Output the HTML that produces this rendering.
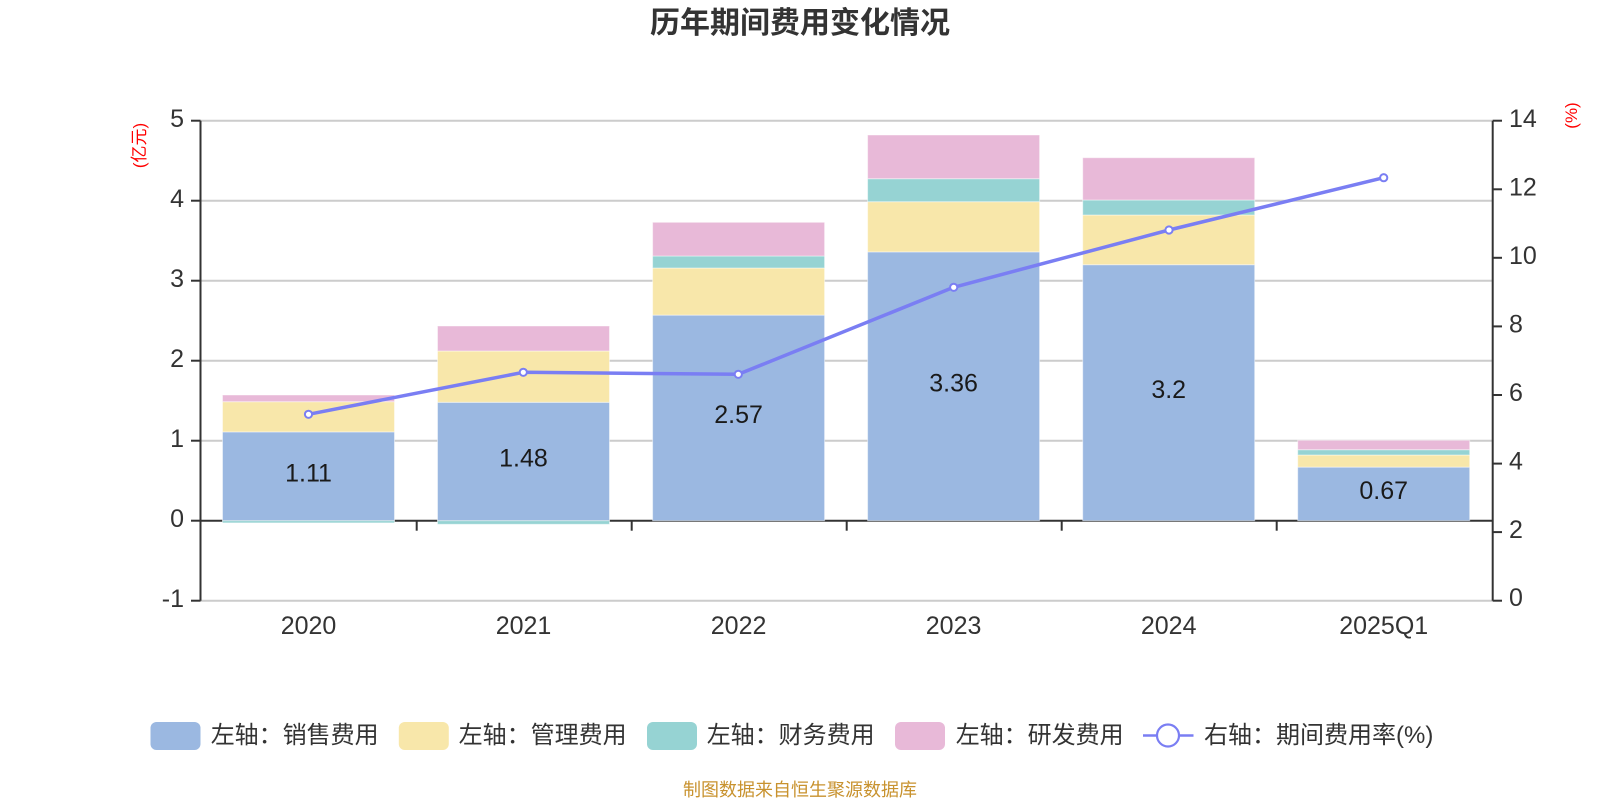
<!DOCTYPE html>
<html>
<head>
<meta charset="utf-8">
<style>
  html, body { margin: 0; padding: 0; background: #ffffff; }
  svg { display: block; }
  text { font-family: "Liberation Sans", "Noto Sans CJK SC", sans-serif; }
</style>
</head>
<body>
<svg width="1600" height="800" viewBox="0 0 1600 800" xmlns="http://www.w3.org/2000/svg">
  <rect x="0" y="0" width="1600" height="800" fill="#ffffff"/>

  <!-- Title -->
  <text x="800" y="33" text-anchor="middle" font-size="30" font-weight="bold" fill="#333333">历年期间费用变化情况</text>

  <!-- Axis names -->
  <text transform="translate(145,145.5) rotate(-90)" text-anchor="middle" font-size="17" fill="#ff0000">(亿元)</text>
  <text transform="translate(1577,115.5) rotate(-90)" text-anchor="middle" font-size="17" fill="#ff0000">(%)</text>

  <!-- Grid lines -->
  <g stroke="#cccccc" stroke-width="2">
    <line x1="200.5" y1="120.7" x2="1492.7" y2="120.7"/>
    <line x1="200.5" y1="200.7" x2="1492.7" y2="200.7"/>
    <line x1="200.5" y1="280.7" x2="1492.7" y2="280.7"/>
    <line x1="200.5" y1="360.7" x2="1492.7" y2="360.7"/>
    <line x1="200.5" y1="440.7" x2="1492.7" y2="440.7"/>
    <line x1="200.5" y1="600.7" x2="1492.7" y2="600.7"/>
  </g>

  <!-- X axis line at 0 -->
  <line x1="200.5" y1="520.7" x2="1492.7" y2="520.7" stroke="#333333" stroke-width="2"/>
  <g stroke="#333333" stroke-width="2">
    <line x1="416.7" y1="520.7" x2="416.7" y2="530.7"/>
    <line x1="631.7" y1="520.7" x2="631.7" y2="530.7"/>
    <line x1="846.7" y1="520.7" x2="846.7" y2="530.7"/>
    <line x1="1061.7" y1="520.7" x2="1061.7" y2="530.7"/>
    <line x1="1276.7" y1="520.7" x2="1276.7" y2="530.7"/>
  </g>

  <!-- Bars -->
  <g stroke="rgba(255,255,255,0.45)" stroke-width="1">
    <!-- 2020 -->
    <rect x="222.5" y="431.9" width="172" height="88.8" fill="#9bb8e1"/>
    <rect x="222.5" y="401.7" width="172" height="30.2" fill="#f8e7aa"/>
    <rect x="222.5" y="395" width="172" height="6.7" fill="#e8b9d8"/>
    <rect x="222.5" y="520.7" width="172" height="2.2" fill="#96d3d3"/>
    <!-- 2021 -->
    <rect x="437.5" y="402.3" width="172" height="118.4" fill="#9bb8e1"/>
    <rect x="437.5" y="351" width="172" height="51.3" fill="#f8e7aa"/>
    <rect x="437.5" y="326" width="172" height="25" fill="#e8b9d8"/>
    <rect x="437.5" y="520.7" width="172" height="3.6" fill="#96d3d3"/>
    <!-- 2022 -->
    <rect x="652.6" y="315.1" width="172" height="205.6" fill="#9bb8e1"/>
    <rect x="652.6" y="268" width="172" height="47.1" fill="#f8e7aa"/>
    <rect x="652.6" y="256" width="172" height="12" fill="#96d3d3"/>
    <rect x="652.6" y="222.3" width="172" height="33.7" fill="#e8b9d8"/>
    <!-- 2023 -->
    <rect x="867.6" y="251.9" width="172" height="268.8" fill="#9bb8e1"/>
    <rect x="867.6" y="201.7" width="172" height="50.2" fill="#f8e7aa"/>
    <rect x="867.6" y="178.7" width="172" height="23" fill="#96d3d3"/>
    <rect x="867.6" y="135" width="172" height="43.7" fill="#e8b9d8"/>
    <!-- 2024 -->
    <rect x="1082.7" y="264.7" width="172" height="256" fill="#9bb8e1"/>
    <rect x="1082.7" y="215" width="172" height="49.7" fill="#f8e7aa"/>
    <rect x="1082.7" y="200" width="172" height="15" fill="#96d3d3"/>
    <rect x="1082.7" y="157.7" width="172" height="42.3" fill="#e8b9d8"/>
    <!-- 2025Q1 -->
    <rect x="1297.7" y="467.1" width="172" height="53.6" fill="#9bb8e1"/>
    <rect x="1297.7" y="455" width="172" height="12.1" fill="#f8e7aa"/>
    <rect x="1297.7" y="449.7" width="172" height="5.3" fill="#96d3d3"/>
    <rect x="1297.7" y="440.3" width="172" height="9.4" fill="#e8b9d8"/>
  </g>

  <!-- Data labels -->
  <g font-size="25" fill="#1a1a1a" text-anchor="middle">
    <text x="308.5" y="481.5">1.11</text>
    <text x="523.5" y="466.5">1.48</text>
    <text x="738.6" y="423">2.57</text>
    <text x="953.6" y="391.5">3.36</text>
    <text x="1168.7" y="398">3.2</text>
    <text x="1383.7" y="499">0.67</text>
  </g>

  <!-- Left axis -->
  <line x1="200.5" y1="120.7" x2="200.5" y2="600.7" stroke="#333333" stroke-width="2"/>
  <g stroke="#333333" stroke-width="2">
    <line x1="191" y1="120.7" x2="200.5" y2="120.7"/>
    <line x1="191" y1="200.7" x2="200.5" y2="200.7"/>
    <line x1="191" y1="280.7" x2="200.5" y2="280.7"/>
    <line x1="191" y1="360.7" x2="200.5" y2="360.7"/>
    <line x1="191" y1="440.7" x2="200.5" y2="440.7"/>
    <line x1="191" y1="520.7" x2="200.5" y2="520.7"/>
    <line x1="191" y1="600.7" x2="200.5" y2="600.7"/>
  </g>
  <g font-size="25" fill="#333333" text-anchor="end">
    <text x="184" y="127">5</text>
    <text x="184" y="207">4</text>
    <text x="184" y="287">3</text>
    <text x="184" y="367">2</text>
    <text x="184" y="447">1</text>
    <text x="184" y="527">0</text>
    <text x="184" y="607">-1</text>
  </g>

  <!-- Right axis -->
  <line x1="1492.7" y1="120.7" x2="1492.7" y2="600.7" stroke="#333333" stroke-width="2"/>
  <g stroke="#333333" stroke-width="2">
    <line x1="1492.7" y1="120.7" x2="1502" y2="120.7"/>
    <line x1="1492.7" y1="189.3" x2="1502" y2="189.3"/>
    <line x1="1492.7" y1="257.8" x2="1502" y2="257.8"/>
    <line x1="1492.7" y1="326.4" x2="1502" y2="326.4"/>
    <line x1="1492.7" y1="395" x2="1502" y2="395"/>
    <line x1="1492.7" y1="463.6" x2="1502" y2="463.6"/>
    <line x1="1492.7" y1="532.1" x2="1502" y2="532.1"/>
    <line x1="1492.7" y1="600.7" x2="1502" y2="600.7"/>
  </g>
  <g font-size="25" fill="#333333" text-anchor="start">
    <text x="1509" y="127">14</text>
    <text x="1509" y="195.5">12</text>
    <text x="1509" y="264">10</text>
    <text x="1509" y="332.5">8</text>
    <text x="1509" y="401">6</text>
    <text x="1509" y="469.5">4</text>
    <text x="1509" y="538">2</text>
    <text x="1509" y="606">0</text>
  </g>

  <!-- X labels -->
  <g font-size="25" fill="#333333" text-anchor="middle">
    <text x="308.5" y="634">2020</text>
    <text x="523.5" y="634">2021</text>
    <text x="738.6" y="634">2022</text>
    <text x="953.6" y="634">2023</text>
    <text x="1168.7" y="634">2024</text>
    <text x="1383.7" y="634">2025Q1</text>
  </g>

  <!-- Line series -->
  <polyline points="308.5,414.3 523.3,372.3 738.3,374.3 953.7,287.3 1169,230 1383.7,177.7"
            fill="none" stroke="#7a7ef3" stroke-width="3.5" stroke-linejoin="round"/>
  <g fill="#ffffff" stroke="#7a7ef3" stroke-width="2">
    <circle cx="308.5" cy="414.3" r="3.6"/>
    <circle cx="523.3" cy="372.3" r="3.6"/>
    <circle cx="738.3" cy="374.3" r="3.6"/>
    <circle cx="953.7" cy="287.3" r="3.6"/>
    <circle cx="1169" cy="230" r="3.6"/>
    <circle cx="1383.7" cy="177.7" r="3.6"/>
  </g>

  <!-- Legend -->
  <rect x="150.5" y="722" width="50" height="28" rx="6" ry="6" fill="#9bb8e1"/>
  <text x="210.7" y="743" font-size="24" fill="#333333">左轴：销售费用</text>

  <rect x="398.8" y="722" width="50" height="28" rx="6" ry="6" fill="#f8e7aa"/>
  <text x="458.6" y="743" font-size="24" fill="#333333">左轴：管理费用</text>

  <rect x="647" y="722" width="50" height="28" rx="6" ry="6" fill="#96d3d3"/>
  <text x="706.7" y="743" font-size="24" fill="#333333">左轴：财务费用</text>

  <rect x="895" y="722" width="50" height="28" rx="6" ry="6" fill="#e8b9d8"/>
  <text x="955.7" y="743" font-size="24" fill="#333333">左轴：研发费用</text>

  <line x1="1143" y1="735.5" x2="1193.5" y2="735.5" stroke="#7a7ef3" stroke-width="2.5"/>
  <circle cx="1168" cy="735.5" r="11" fill="#ffffff" stroke="#7a7ef3" stroke-width="2.2"/>
  <text x="1204" y="743" font-size="24" fill="#333333">右轴：期间费用率(%)</text>

  <!-- Footer -->
  <text x="800" y="796" text-anchor="middle" font-size="18" fill="#c8922e">制图数据来自恒生聚源数据库</text>
</svg>
</body>
</html>
